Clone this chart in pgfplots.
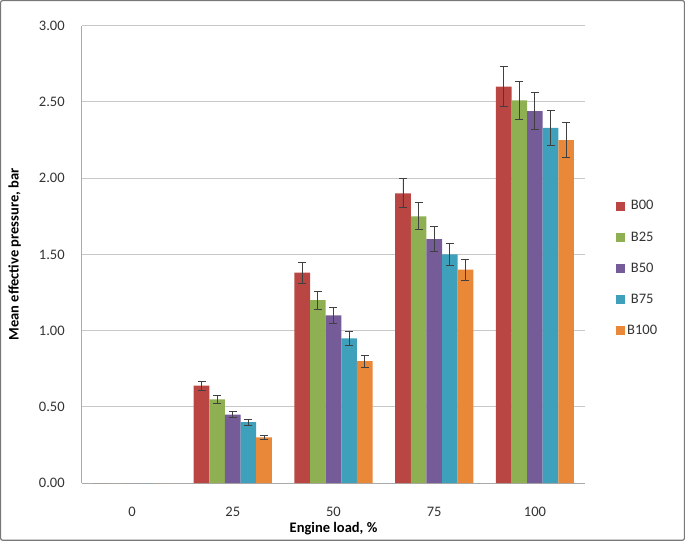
\documentclass[border=0pt]{standalone}
\usepackage{fontspec}
\setmainfont{Carlito}
\usepackage{pgfplots}
\pgfplotsset{compat=1.18}
\definecolor{cB00}{RGB}{185,70,66}
\definecolor{cB25}{RGB}{143,176,82}
\definecolor{cB50}{RGB}{117,92,152}
\definecolor{cB75}{RGB}{62,160,186}
\definecolor{cB100}{RGB}{234,136,58}
\definecolor{gridc}{RGB}{200,200,200}
\begin{document}
\begin{tikzpicture}
\fontsize{14.5pt}{17pt}\selectfont
\begin{axis}[
  scale only axis,
  width=503pt, height=457pt,
  ybar=0pt, bar width=15.6pt,
  xmin=-0.5, xmax=4.5, ymin=0, ymax=3,
  xtick={0,1,2,3,4}, xticklabels={0,25,50,75,100},
  major x tick style={draw=none},
  extra x ticks={0.5,1.5,2.5,3.5,4.5}, extra x tick labels={},
  extra x tick style={major tick length=4pt, tick style={draw=gridc!80!black, line width=0.8pt}, tick align=inside, grid=none},
  ytick={0,0.5,...,3},
  ymajorgrids, grid style={draw=gridc, line width=1pt},
  major y tick style={draw=none},
  axis x line*=bottom, axis y line*=left,
  axis line style={draw=gridc!85!black, line width=1pt, -},
  /pgf/number format/assume math mode=true,
  yticklabel={\pgfmathprintnumber[fixed,fixed zerofill,precision=2]{\tick}},
  yticklabel style={xshift=-12pt, font=\fontsize{14.5pt}{17pt}\selectfont, text=black!80},
  xticklabel style={anchor=center, yshift=-24pt, font=\fontsize{14.5pt}{17pt}\selectfont, text=black!80},
  xlabel={\textbf{Engine load, \%}},
  ylabel={\textbf{Mean effective pressure, bar}},
  xlabel style={at={(axis description cs:0.5,-0.1)}, anchor=center, font=\fontsize{14.5pt}{17pt}\selectfont},
  ylabel style={at={(axis description cs:-0.133,0.5)}, anchor=center, rotate=0, font=\fontsize{14.5pt}{17pt}\selectfont},
  legend style={at={(axis description cs:1.055,0.627)}, anchor=north west, draw=none, fill=none,
    row sep=15.5pt, font=\fontsize{14.5pt}{17pt}\selectfont, text=black!80,
    /tikz/every even column/.append style={column sep=2pt}},
  legend image code/.code={\fill[#1,draw=none] (0pt,-4.5pt) rectangle (9pt,4.5pt);},
  error bars/y dir=both, error bars/y explicit,
  error bars/error bar style={line width=0.9pt, black!75},
  error bars/error mark options={rotate=90, mark size=4pt, line width=0.9pt, black!75},
]
\addplot[fill=cB00, draw=none] coordinates {(0,0) (1,0.64) +- (0,0.03) (2,1.38) +- (0,0.07) (3,1.90) +- (0,0.095) (4,2.60) +- (0,0.13)};
\addplot[fill=cB25, draw=none] coordinates {(0,0) (1,0.55) +- (0,0.028) (2,1.20) +- (0,0.06) (3,1.75) +- (0,0.088) (4,2.51) +- (0,0.126)};
\addplot[fill=cB50, draw=none] coordinates {(0,0) (1,0.45) +- (0,0.022) (2,1.10) +- (0,0.055) (3,1.60) +- (0,0.08) (4,2.44) +- (0,0.122)};
\addplot[fill=cB75, draw=none] coordinates {(0,0) (1,0.40) +- (0,0.02) (2,0.95) +- (0,0.048) (3,1.50) +- (0,0.075) (4,2.33) +- (0,0.117)};
\addplot[fill=cB100, draw=none] coordinates {(0,0) (1,0.30) +- (0,0.015) (2,0.80) +- (0,0.04) (3,1.40) +- (0,0.07) (4,2.25) +- (0,0.113)};
\legend{B00,B25,B50,B75,B100}
\end{axis}
\draw[gridc!60!black, line width=1.2pt, rounded corners=2pt]
  ([shift={(-81pt,-57pt)}]current axis.south west) rectangle ([shift={(99pt,25pt)}]current axis.north east);
\end{tikzpicture}
\end{document}
